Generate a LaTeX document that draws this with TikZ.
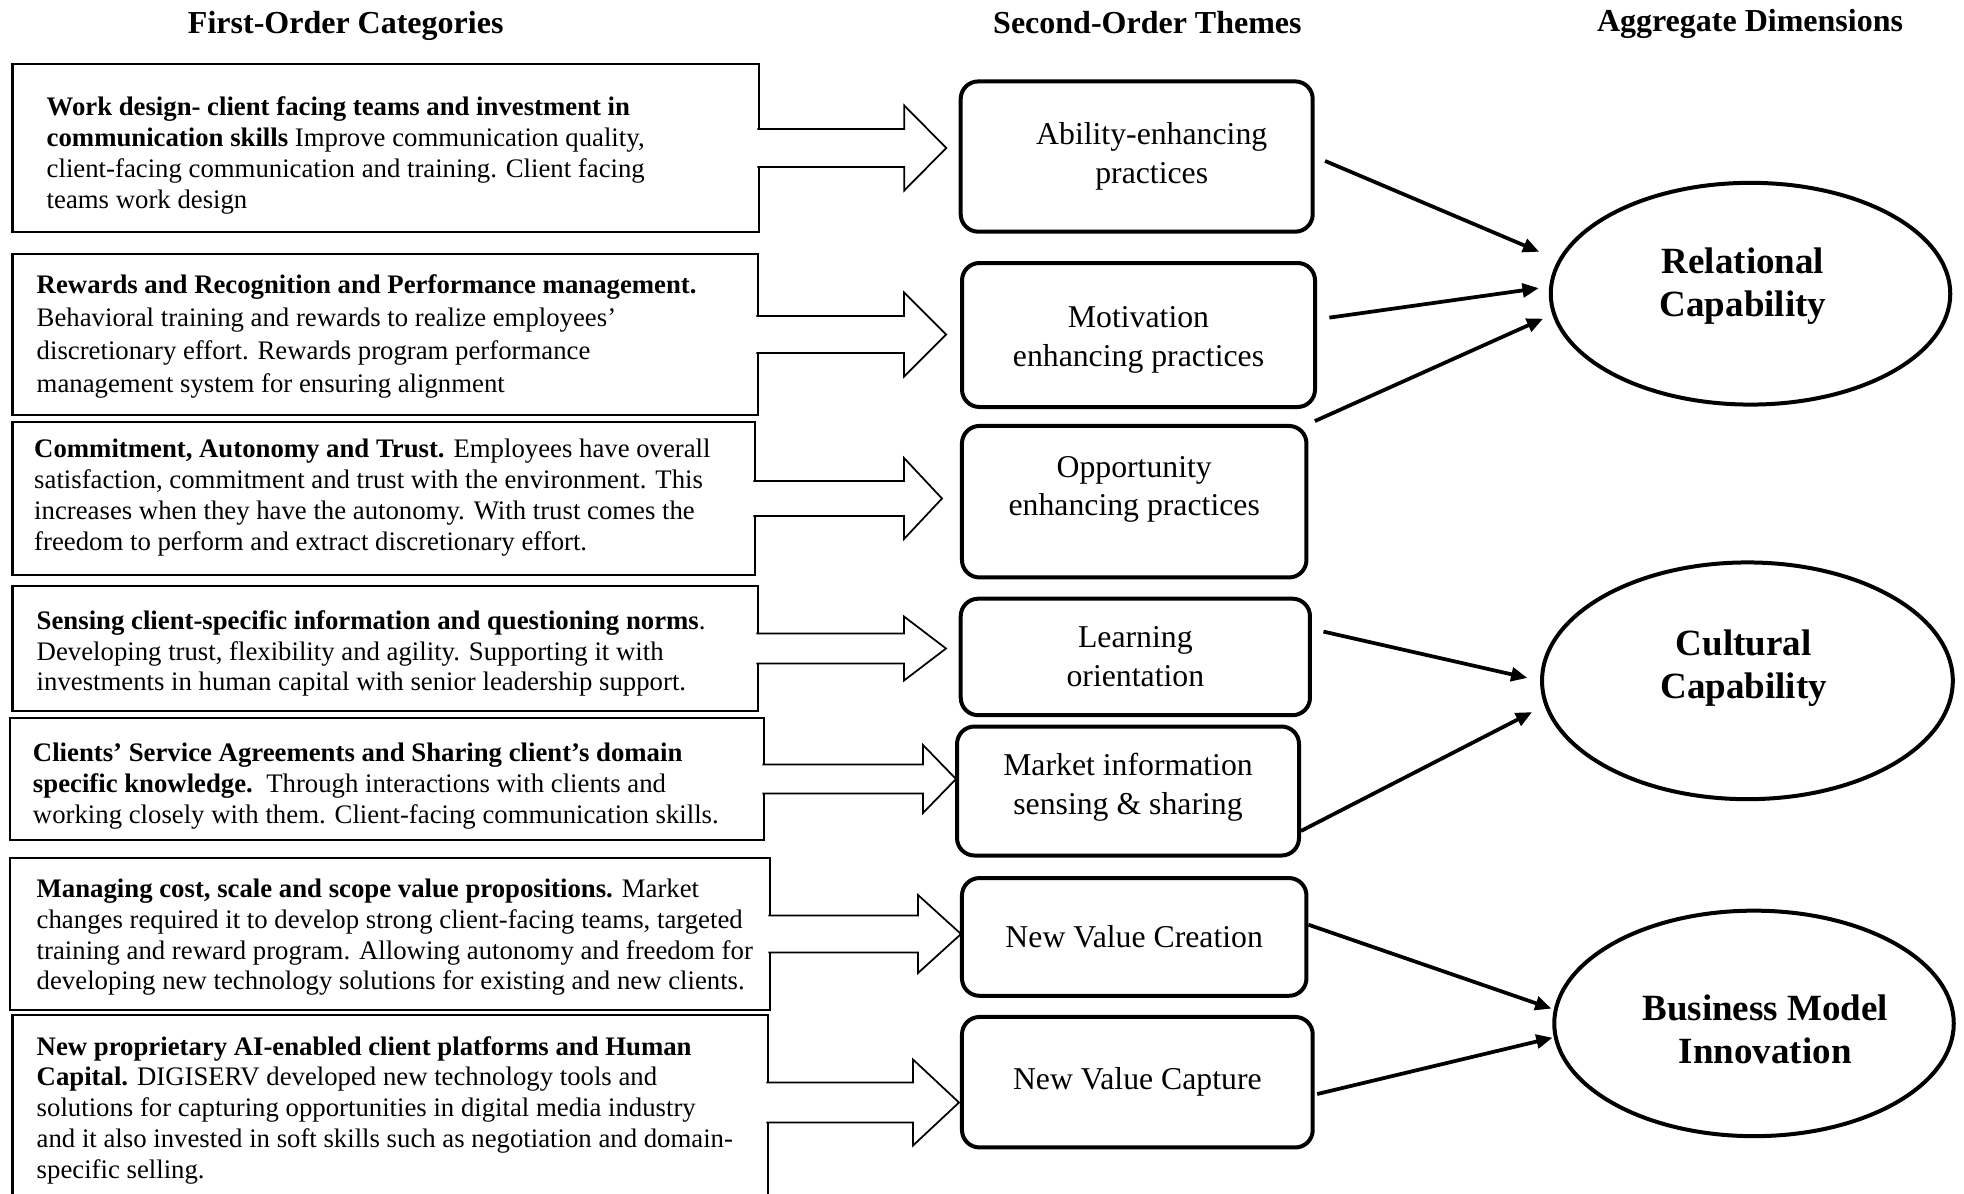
\documentclass[tikz,border=0pt]{standalone}
\usepackage{fontspec}
\setmainfont{Liberation Serif}
\usetikzlibrary{arrows.meta,shapes.geometric,calc}

\begin{document}
\begin{tikzpicture}[
  x=0.4pt, y=-0.4pt,
  hdr/.style={font=\fontsize{12.8}{15}\selectfont\bfseries, align=center},
  cat/.style={draw, line width=1pt, inner sep=0pt},
  cattxt/.style={anchor=west, align=left, inner sep=0pt,
                 font=\fontsize{10.7}{12.3}\selectfont},
  theme/.style={draw, line width=1.6pt, rounded corners=7pt, align=center,
                inner sep=0pt, font=\fontsize{12.7}{15.5}\selectfont},
  dim/.style={draw, ellipse, line width=1.6pt, inner sep=0pt, align=center,
              font=\fontsize{14.8}{17}\selectfont\bfseries},
  blockarr/.style={draw, fill=white, line width=0.7pt},
  conn/.style={-{Triangle[length=6.5pt,width=5.5pt]}, line width=1.5pt}
]
\useasboundingbox (0,0) rectangle (1964,1193);

% ---- column headers
\node[hdr] (h1) at (345.7,26.3)  {First-Order Categories};
\node[hdr] (h2) at (1147.4,22.5) {Second-Order Themes};
\node[hdr] (h3) at (1750,23.8)   {Aggregate Dimensions};

% ---- first-order categories (frames)
\node[cat, minimum width=298.6pt, minimum height=67.2pt] (c1) at (385.75,148)   {};
\node[cat, minimum width=298.2pt, minimum height=64.4pt] (c2) at (385.25,334.5) {};
\node[cat, minimum width=297pt,   minimum height=61.2pt] (c3) at (383.75,498.5) {};
\node[cat, minimum width=298.2pt, minimum height=50pt]   (c4) at (385.25,648.5) {};
\node[cat, minimum width=301.6pt, minimum height=48.8pt] (c5) at (387,779)      {};
\node[cat, minimum width=304pt,   minimum height=60.8pt] (c6) at (390,934)      {};
\node[cat, minimum width=302.2pt, minimum height=74pt]   (c7) at (390.25,1107.5) {};

% ---- first-order categories (texts)
\node[cattxt] (c1txt) at ([xshift=14pt,yshift=-3pt]c1.west)
  {\textbf{Work design- client facing teams and investment in}\\
   \textbf{communication skills} Improve communication quality,\\
   client-facing communication and training. Client facing\\
   teams work design};
\node[cattxt, font=\fontsize{10.7}{13.2}\selectfont] (c2txt) at ([xshift=10pt,yshift=-0.6pt]c2.west)
  {\textbf{Rewards and Recognition and Performance management.}\\
   Behavioral training and rewards to realize employees’\\
   discretionary effort. Rewards program performance\\
   management system for ensuring alignment};
\node[cattxt] (c3txt) at ([xshift=9pt,yshift=0.4pt]c3.west)
  {\textbf{Commitment, Autonomy and Trust.} Employees have overall\\
   satisfaction, commitment and trust with the environment. This\\
   increases when they have the autonomy. With trust comes the\\
   freedom to perform and extract discretionary effort.};
\node[cattxt] (c4txt) at ([xshift=10pt,yshift=-2pt]c4.west)
  {\textbf{Sensing client-specific information and questioning norms}.\\
   Developing trust, flexibility and agility. Supporting it with\\
   investments in human capital with senior leadership support.};
\node[cattxt] (c5txt) at ([xshift=9.5pt,yshift=-2.8pt]c5.west)
  {\textbf{Clients’ Service Agreements and Sharing client’s domain}\\
   \textbf{specific knowledge.}\ \ Through interactions with clients and\\
   working closely with them. Client-facing communication skills.};
\node[cattxt] (c6txt) at ([xshift=11pt,yshift=-1.3pt]c6.west)
  {\textbf{Managing cost, scale and scope value propositions.} Market\\
   changes required it to develop strong client-facing teams, targeted\\
   training and reward program. Allowing autonomy and freedom for\\
   developing new technology solutions for existing and new clients.};
\node[cattxt] (c7txt) at ([xshift=10pt,yshift=-1pt]c7.west)
  {\textbf{New proprietary AI-enabled client platforms and Human}\\
   \textbf{Capital.} DIGISERV developed new technology tools and\\
   solutions for capturing opportunities in digital media industry\\
   and it also invested in soft skills such as negotiation and domain-\\
   specific selling.};

% ---- block arrows into the themes
\draw[blockarr] ($(c1.east)+(-3,-19)$) -- ++(147,0) -- ++(0,-23.5) -- ++(42,42.5)
  -- ++(-42,42.5) -- ++(0,-23.5) -- ++(-147,0);
\draw[blockarr] ($(c2.east)+(-3,-18.6)$) -- ++(147.75,0) -- ++(0,-23.4) -- ++(42,42)
  -- ++(-42,42) -- ++(0,-23.4) -- ++(-147.75,0);
\draw[blockarr] ($(c3.east)+(-3,-17.5)$) -- ++(150.75,0) -- ++(0,-23) -- ++(38,40.5)
  -- ++(-38,40.5) -- ++(0,-23) -- ++(-150.75,0);
\draw[blockarr] ($(c4.east)+(-3,-15)$) -- ++(147.75,0) -- ++(0,-17) -- ++(42,32)
  -- ++(-42,32) -- ++(0,-17) -- ++(-147.75,0);
\draw[blockarr] ($(c5.east)+(-3,-14.5)$) -- ++(160.75,0) -- ++(0,-19.5) -- ++(33,34)
  -- ++(-33,34) -- ++(0,-19.5) -- ++(-160.75,0);
\draw[blockarr] ($(c6.east)+(-3,-18.5)$) -- ++(149.75,0) -- ++(0,-20.5) -- ++(43,39)
  -- ++(-43,39) -- ++(0,-20.5) -- ++(-149.75,0);
\draw[blockarr] ($(c7.east)+(-3,-25)$) -- ++(146.75,0) -- ++(0,-23) -- ++(46,43)
  -- ++(-46,43) -- ++(0,-23) -- ++(-146.75,0);

% ---- second-order themes
\node[theme, minimum width=140.8pt, minimum height=60.1pt] (t1) at (1136.7,156.55)
  {\hspace*{12pt}Ability-enhancing\\\hspace*{12pt}practices};
\node[theme, minimum width=141.2pt, minimum height=57.6pt] (t2) at (1138.5,335)
  {\mbox{}\\[-3.1pt]Motivation\\enhancing practices};
\node[theme, minimum width=137.8pt, minimum height=60.6pt] (t3) at (1134.2,501.7)
  {Opportunity\\enhancing practices\\[-3pt]\mbox{}};
\node[theme, minimum width=139.7pt, minimum height=46.6pt] (t4) at (1135.35,656.95)
  {Learning\\orientation};
\node[theme, minimum width=136.8pt, minimum height=51.6pt] (t5) at (1128,791)
  {Market information\\sensing \& sharing\\[-9.7pt]\mbox{}};
\node[theme, minimum width=137.8pt, minimum height=47.1pt] (t6) at (1134.2,936.9)
  {New Value Creation};
\node[theme, minimum width=140.3pt, minimum height=52.2pt] (t7) at (1137.35,1082.2)
  {New Value Capture};

% ---- aggregate dimensions
\node[dim, minimum width=159.8pt, minimum height=88.7pt] (r1) at (1750.5,293.7)
  {\hspace*{-6pt}Relational\\\hspace*{-6pt}Capability\\[-7.8pt]\mbox{}};
\node[dim, minimum width=164.3pt, minimum height=94.7pt] (r2) at (1747.4,680.8)
  {\hspace*{-3pt}Cultural\\\hspace*{-3pt}Capability\\[-3.8pt]\mbox{}};
\node[dim, minimum width=159.8pt, minimum height=90.2pt] (r3) at (1754,1023.4)
  {\mbox{}\\[-2pt]\hspace*{9pt}Business Model\\\hspace*{9pt}Innovation};

% ---- themes to dimensions
\draw[conn, shorten <=4.5pt, shorten >=8.2pt] (t1.east) -- (r1.170);
\draw[conn, shorten <=5pt, shorten >=4.2pt] (t2.5) -- (r1.178);
\draw[conn, shorten <=2.8pt, shorten >=4pt] (t3.north east) -- (r1.186);
\draw[conn, shorten <=4.7pt, shorten >=5.2pt] (t4.9) -- (r2.west);
\draw[conn, shorten >=5.6pt] (t5.347) -- (r2.187);
\draw[conn, shorten >=1pt] (t6.4) -- (r3.176);
\draw[conn, shorten <=1pt, shorten >=0.5pt] (t7.356.5) -- (r3.184);
\end{tikzpicture}
\end{document}
